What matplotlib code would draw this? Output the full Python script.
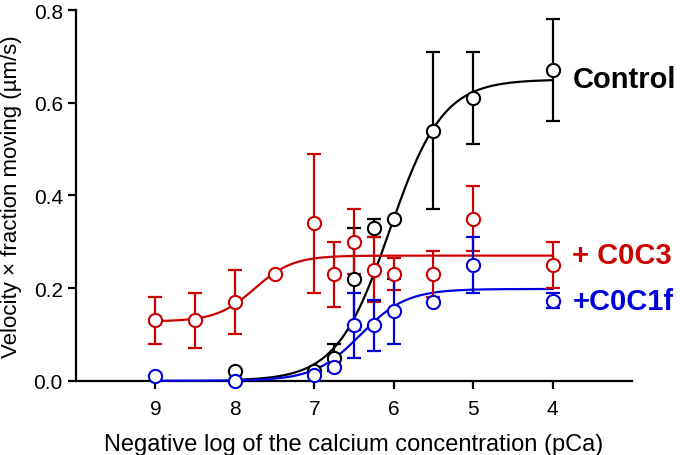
import matplotlib.pyplot as plt
import numpy as np

plt.rcParams['font.family'] = ['Liberation Sans', 'DejaVu Sans']

# pCa values and velocity x fraction moving (um/s), mean and error
ctrl_pca = [8, 7, 6.75, 6.5, 6.25, 6, 5.5, 5, 4]
ctrl_val = [0.02, 0.02, 0.05, 0.22, 0.33, 0.35, 0.54, 0.61, 0.67]
ctrl_err = [0.0, 0.0, 0.03, 0.11, 0.02, 0.0, 0.17, 0.10, 0.11]

c0c3_pca = [9, 8.5, 8, 7.5, 7, 6.75, 6.5, 6.25, 6, 5.5, 5, 4]
c0c3_val = [0.13, 0.13, 0.17, 0.23, 0.34, 0.23, 0.30, 0.24, 0.23, 0.23, 0.35, 0.25]
c0c3_err = [0.05, 0.06, 0.07, 0.0, 0.15, 0.07, 0.07, 0.07, 0.035, 0.05, 0.07, 0.05]

c0c1f_pca = [9, 8, 7, 6.75, 6.5, 6.25, 6, 5.5, 5, 4]
c0c1f_val = [0.01, 0.0, 0.013, 0.03, 0.12, 0.12, 0.15, 0.17, 0.25, 0.173]
c0c1f_err = [0.0, 0.0, 0.0, 0.0, 0.07, 0.055, 0.07, 0.0, 0.06, 0.017]

# Hill fit parameters: bottom, top, pCa50, n
ctrl_fit = (0.0, 0.65, 6.05, 1.3)
c0c3_fit = (0.128, 0.27, 7.75, 1.8)
c0c1f_fit = (0.0, 0.198, 6.42, 1.5)

RED = '#cc0000'
BLUE = '#0000dd'
BLACK = 'black'


def hill(p, fit):
    bottom, top, p50, n = fit
    return bottom + (top - bottom) / (1 + 10 ** ((p - p50) * n))


fig = plt.figure(figsize=(6.8, 4.56), dpi=100)
ax = fig.add_axes([0.1118, 0.1629, 0.8176, 0.8129])

pgrid = np.linspace(9, 4, 300)
series = [
    (ctrl_pca, ctrl_val, ctrl_err, ctrl_fit, BLACK, np.linspace(8, 4, 300)),
    (c0c3_pca, c0c3_val, c0c3_err, c0c3_fit, RED, pgrid),
    (c0c1f_pca, c0c1f_val, c0c1f_err, c0c1f_fit, BLUE, pgrid),
]
for pca, val, err, fit, col, grid in series:
    ax.plot(grid, hill(grid, fit), color=col, lw=1.6, zorder=3, clip_on=False)
    ax.errorbar(pca, val, yerr=err, fmt='none', ecolor=col, elinewidth=1.6,
                capsize=5, capthick=1.6, zorder=4, clip_on=False)
    ax.plot(pca, val, 'o', ms=9.5, mfc='white', mec=col, mew=1.5,
            zorder=5, clip_on=False)

# series labels at the right
ax.text(3.75, 0.651, 'Control', color=BLACK, fontsize=21, fontweight='bold',
        va='center', ha='left', clip_on=False)
ax.text(3.75, 0.272, '+ C0C3', color=RED, fontsize=21, fontweight='bold',
        va='center', ha='left', clip_on=False)
ax.text(3.75, 0.172, '+C0C1f', color=BLUE, fontsize=21, fontweight='bold',
        va='center', ha='left', clip_on=False)

ax.set_xlim(10, 3)
ax.set_ylim(0, 0.8)
ax.set_xticks([9, 8, 7, 6, 5, 4])
ax.set_yticks([0.0, 0.2, 0.4, 0.6, 0.8])
ax.set_yticklabels(['0.0', '0.2', '0.4', '0.6', '0.8'])

for s in ['top', 'right']:
    ax.spines[s].set_visible(False)
for s in ['left', 'bottom']:
    ax.spines[s].set_linewidth(1.6)
ax.tick_params(width=1.6, length=5.5, labelsize=15)
ax.tick_params(axis='x', pad=7.5)
ax.tick_params(axis='y', pad=4)

ax.set_xlabel('Negative log of the calcium concentration (pCa)', fontsize=17,
              labelpad=11)
ax.set_ylabel('Velocity \u00d7 fraction moving (\u00b5m/s)', fontsize=16,
              labelpad=8)

fig.savefig('out.png', dpi=100)
